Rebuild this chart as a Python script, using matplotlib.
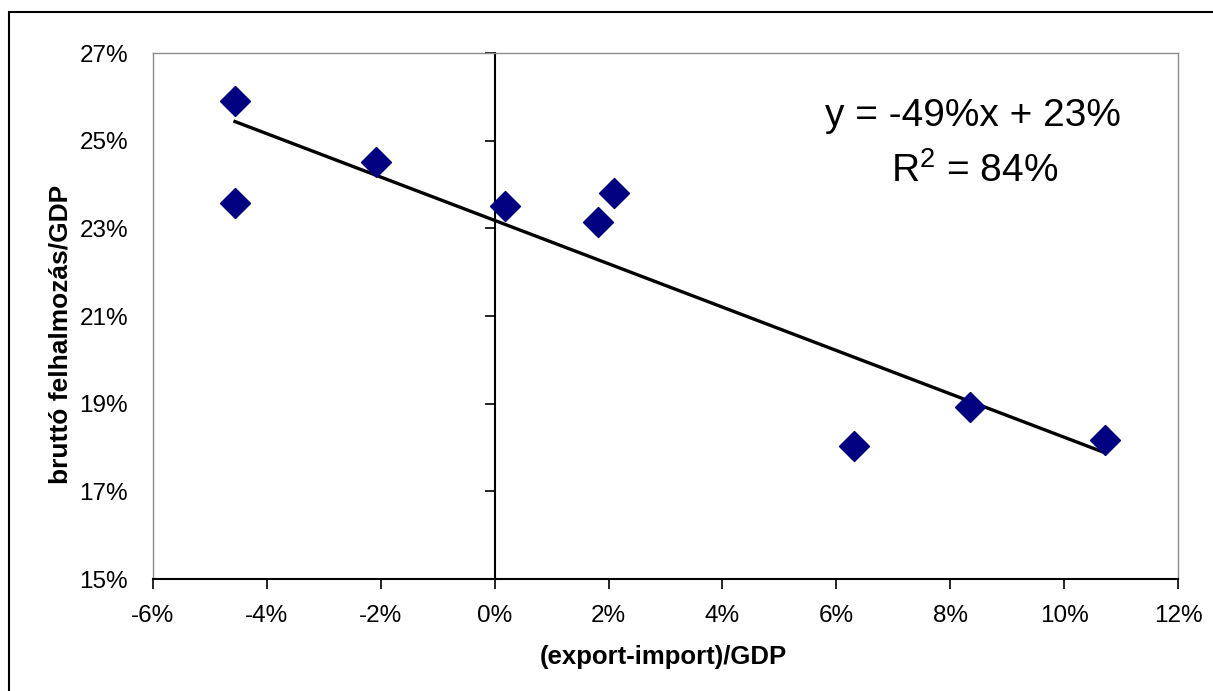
import numpy as np
import matplotlib
matplotlib.use('Agg')
import matplotlib.pyplot as plt
from matplotlib.patches import Rectangle
from matplotlib.ticker import FuncFormatter, FixedLocator

# ==============================================================================
# DATA (in percent)
# ==============================================================================
net_export = [-4.56, -4.56, -2.08, 0.18, 1.82, 2.10, 6.31, 8.35, 10.71]
investment = [25.91, 23.58, 24.51, 23.51, 23.15, 23.81, 18.03, 18.92, 18.17]

x_limits = (-6, 12)
y_limits = (15, 27)
x_ticks = [-6, -4, -2, 0, 2, 4, 6, 8, 10, 12]
y_ticks = [15, 17, 19, 21, 23, 25, 27]
x_label = '(export-import)/GDP'
y_label = 'bruttó felhalmozás/GDP'
eq_text = 'y = -49%x + 23%'
r2_text = 'R$^2$ = 84%'

plt.rcParams['font.family'] = ['Liberation Sans', 'DejaVu Sans']
plt.rcParams['mathtext.fontset'] = 'custom'
plt.rcParams['mathtext.rm'] = 'Liberation Sans'

W, H = 1213, 691
fig = plt.figure(figsize=(W / 100, H / 100), dpi=100)
ax = fig.add_axes([153 / W, 1 - 579 / H, (1178 - 153) / W, (579 - 53) / H])

# outer chart frame (only left and top edges show in the picture)
fig.patches.append(Rectangle((9 / W, -0.05), 1.1, (H - 12) / H + 0.05,
                             transform=fig.transFigure, fill=False,
                             edgecolor='black', linewidth=1.5, clip_on=False))

# scatter points
x = np.array(net_export)
y = np.array(investment)
ax.plot(x, y, linestyle='none', marker='D', markersize=15.5,
        color='#000080', markeredgecolor='#000080', zorder=4)

# linear trendline
coef = np.polyfit(x, y, 1)
x_fit = np.linspace(x.min(), x.max(), 50)
ax.plot(x_fit, np.polyval(coef, x_fit), color='black', linewidth=2.4, zorder=3)

ax.set_xlim(*x_limits)
ax.set_ylim(*y_limits)

pct = FuncFormatter(lambda v, p: f'{v:.0f}%')
ax.xaxis.set_major_locator(FixedLocator(x_ticks))
ax.yaxis.set_major_locator(FixedLocator(y_ticks))
ax.xaxis.set_major_formatter(pct)
ax.yaxis.set_major_formatter(pct)

# plot area border
for side in ['left', 'right', 'top']:
    ax.spines[side].set_color('#8c8c8c')
    ax.spines[side].set_linewidth(1.0)
ax.spines['bottom'].set_color('black')
ax.spines['bottom'].set_linewidth(1.5)

ax.tick_params(axis='x', direction='out', length=7, width=1.2, pad=12,
               labelsize=17.5, colors='black')
ax.tick_params(axis='y', length=0, pad=18, labelsize=17.5)

# vertical axis crossing at x = 0, with its ticks
zero_pos = (0 - x_limits[0]) / (x_limits[1] - x_limits[0])
sec = ax.secondary_yaxis(zero_pos)
sec.yaxis.set_major_locator(FixedLocator(y_ticks))
sec.tick_params(axis='y', direction='out', length=7, width=1.2, labelleft=False)
sec.spines['left'].set_linewidth(1.5)
sec.spines['left'].set_color('black')

# regression text
ax.text(973 / W, 1 - 116 / H, eq_text, transform=fig.transFigure,
        ha='center', va='center', fontsize=28)
ax.text(975 / W, 1 - 171 / H, r2_text, transform=fig.transFigure,
        ha='center', va='center', fontsize=28)

fig.text(663 / W, 1 - 657 / H, x_label, ha='center', va='center',
         fontsize=18.5, fontweight='bold')
fig.text(61 / W, 1 - 334 / H, y_label, ha='center', va='center',
         rotation=90, fontsize=19, fontweight='bold')

plt.savefig('out.png', dpi=100)
plt.close()
